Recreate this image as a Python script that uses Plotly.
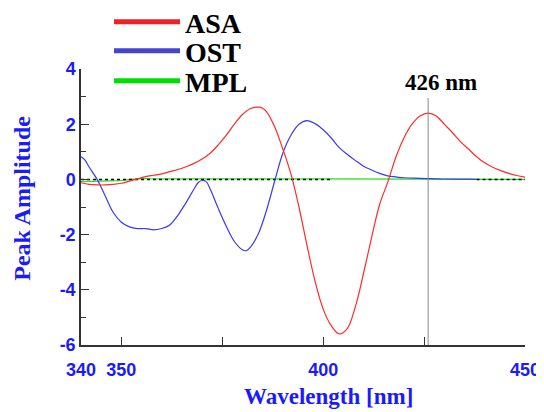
import plotly.graph_objects as go

# ---------------- data ----------------
wl_asa = [340, 342, 344, 346, 348, 350, 352, 354, 356, 358, 360, 362, 364, 366, 368, 370,
          372, 374, 376, 378, 380, 382, 384, 385, 386, 388, 390, 392, 394, 396, 398, 400,
          402, 404, 406, 408, 410, 412, 414, 416, 418, 420, 422, 424, 426, 428, 430, 432,
          434, 436, 438, 440, 442, 444, 446, 448, 450]
asa = [-0.12, -0.18, -0.2, -0.2, -0.18, -0.14, -0.06, 0.02, 0.1, 0.15, 0.2, 0.28, 0.36, 0.46,
       0.58, 0.74, 0.95, 1.25, 1.6, 2.0, 2.35, 2.57, 2.62, 2.58, 2.45, 1.9, 1.1, 0.2, -1.0,
       -2.4, -3.7, -4.7, -5.3, -5.6, -5.4, -4.6, -3.4, -2.1, -0.9, -0.1, 0.8, 1.5, 2.0, 2.3,
       2.4, 2.3, 2.0, 1.7, 1.37, 1.1, 0.82, 0.6, 0.44, 0.32, 0.22, 0.14, 0.08]

wl_ost = [340, 341, 342, 344, 346, 348, 350, 352, 354, 356, 358, 360, 362, 364, 366, 368,
          369, 370, 371, 372, 374, 376, 378, 380, 381, 382, 384, 386, 388, 390, 392, 394,
          396, 398, 400, 402, 404, 406, 408, 410, 412, 414, 416, 418, 420, 424, 428, 432,
          436, 438]
ost = [0.82, 0.7, 0.45, 0.0, -0.6, -1.2, -1.55, -1.72, -1.78, -1.78, -1.83, -1.78, -1.65,
       -1.3, -0.85, -0.35, -0.12, -0.04, -0.08, -0.35, -1.05, -1.7, -2.25, -2.55, -2.58,
       -2.45, -1.95, -1.1, -0.05, 0.95, 1.6, 2.0, 2.13, 2.02, 1.8, 1.5, 1.15, 0.9, 0.68, 0.48,
       0.34, 0.22, 0.13, 0.09, 0.06, 0.04, 0.02, 0.01, 0.01, 0.0]

wl_mpl = [340, 345, 350, 354, 360, 400, 450]
mpl = [-0.08, -0.06, -0.04, 0.02, 0.02, 0.02, 0.0]

wl_base = [340, 402, None, 438, 450]
base = [0, 0, None, 0, 0]

marker_wl = 426
marker_label = "426 nm"
marker_top = 2.95

x_tickvals = [340, 350, 375, 400, 425, 450]
x_ticktext = ["340", "350", "", "400", "", "450"]
y_tickvals = [-6, -4, -2, 0, 2, 4]
y_ticktext = ["-6", "-4", "-2", "0", "2", "4"]

series_names = ["ASA", "OST", "MPL"]
legend_colors = ["#ee2222", "#4444cc", "#00e000"]

RED = "#ff2a2a"
BLUE = "#3a3aee"
GREEN = "#22e022"
LBL = "#1a1aff"


def bold(labels):
    return ["<b>" + t + "</b>" if t else "" for t in labels]


fig = go.Figure()

fig.add_trace(go.Scatter(x=wl_mpl, y=mpl, mode="lines", line=dict(color=GREEN, width=1.2),
                         showlegend=False, line_shape="spline"))
fig.add_trace(go.Scatter(x=wl_base, y=base, mode="lines",
                         line=dict(color="black", width=1.5, dash="dot"), showlegend=False,
                         connectgaps=False))
fig.add_trace(go.Scatter(x=wl_ost, y=ost, mode="lines", line=dict(color=BLUE, width=1.2),
                         showlegend=False, line_shape="spline"))
fig.add_trace(go.Scatter(x=wl_asa, y=asa, mode="lines", line=dict(color=RED, width=1.2),
                         showlegend=False, line_shape="spline"))
fig.add_trace(go.Scatter(x=[marker_wl, marker_wl], y=[-6, marker_top], mode="lines",
                         line=dict(color="#888888", width=1), showlegend=False))

# legend proxies (thick lines), each in its own legend for exact placement
legend_ids = ["legend", "legend2", "legend3"]
for name, col, lid in zip(series_names, legend_colors, legend_ids):
    fig.add_trace(go.Scatter(x=[None], y=[None], mode="lines", name="<b>" + name + "</b>",
                             legend=lid, line=dict(color=col, width=5)))

fig.add_annotation(x=marker_wl, y=marker_top, text="<b>" + marker_label + "</b>",
                   showarrow=False, yanchor="bottom", xshift=13, yshift=1,
                   font=dict(family="Liberation Serif", size=23, color="black"))

fig.add_annotation(xref="paper", yref="paper", x=0.557, y=0, yanchor="top", yshift=-37,
                   text="<b>Wavelength [nm]</b>", showarrow=False,
                   font=dict(family="Liberation Serif", size=23, color=LBL))
fig.add_annotation(xref="paper", yref="paper", x=0, y=0.53, xanchor="center",
                   xshift=-59, textangle=-90,
                   text="<b>Peak Amplitude</b>", showarrow=False,
                   font=dict(family="Liberation Serif", size=24, color=LBL))

leg_common = dict(xref="container", yref="container", x=0.1857, xanchor="left",
                  yanchor="middle", itemwidth=66, bgcolor="rgba(0,0,0,0)",
                  font=dict(family="Liberation Serif", size=28, color="black"))
fig.update_layout(
    width=544, height=412,
    margin=dict(l=73, r=27, t=61, b=75, autoexpand=False),
    paper_bgcolor="white", plot_bgcolor="white",
    showlegend=True,
    legend=dict(y=0.966, **leg_common),
    legend2=dict(y=0.8956, **leg_common),
    legend3=dict(y=0.8228, **leg_common),
    xaxis=dict(range=[340, 450], tickvals=x_tickvals, ticktext=bold(x_ticktext),
               ticks="inside", ticklen=8, tickcolor="#333", showgrid=False,
               zeroline=False, showline=True, linecolor="#333", linewidth=1.5,
               ticklabelstandoff=8,
               tickfont=dict(family="Liberation Sans", size=18, color=LBL)),
    yaxis=dict(range=[-6, 4], tickvals=y_tickvals, ticktext=bold(y_ticktext), ticks="inside",
               ticklen=8, tickcolor="#333", showgrid=False, zeroline=False, showline=True,
               linecolor="#333", linewidth=1.5,
               minor=dict(ticks="inside", ticklen=5, dtick=1, tickcolor="#333"),
               tickfont=dict(family="Liberation Sans", size=18, color=LBL)),
)

fig.write_html("out.html")
